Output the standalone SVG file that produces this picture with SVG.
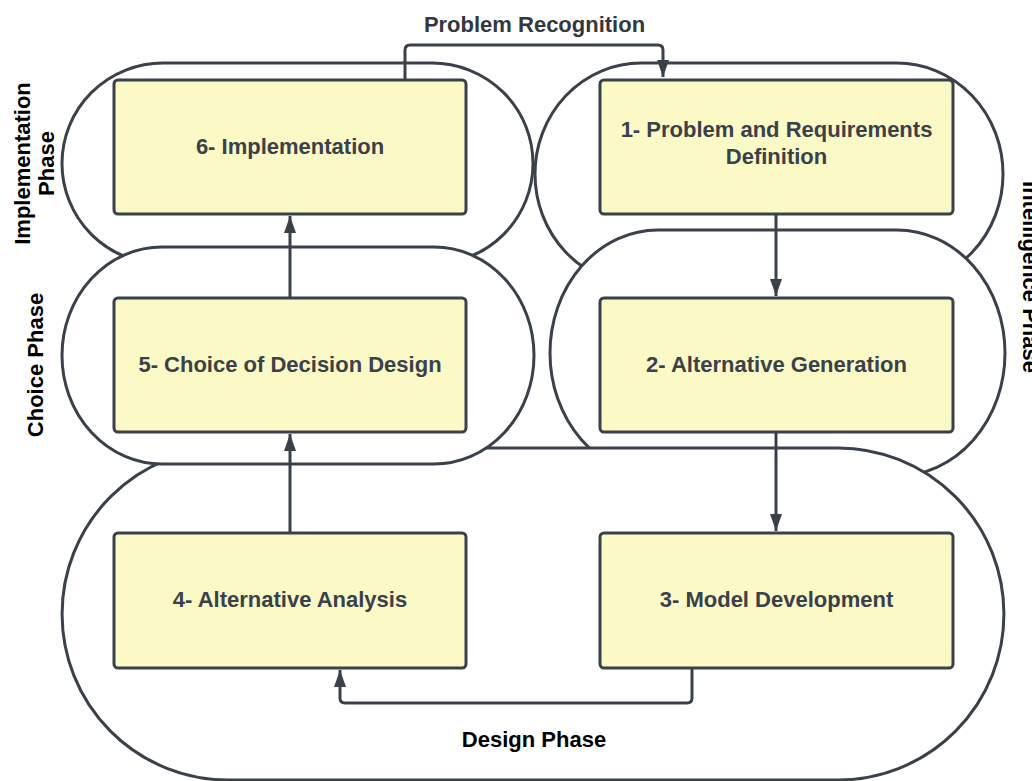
<svg xmlns="http://www.w3.org/2000/svg" width="1032" height="781" viewBox="0 0 1032 781">
<style>
.phase{fill:#ffffff;stroke:#3a414a;stroke-width:3}
.box{fill:#fbf9c6;stroke:#3a414a;stroke-width:3}
.lbl{font-family:"Liberation Sans",Arial,sans-serif;font-size:22px;font-weight:bold;fill:#3a414a;text-anchor:middle}
.ph{font-family:"Liberation Sans",Arial,sans-serif;font-size:22px;font-weight:bold;fill:#000000;text-anchor:middle}
.conn{fill:none;stroke:#3a414a;stroke-width:3}
</style>
<defs>
<marker id="arr" markerUnits="userSpaceOnUse" markerWidth="18" markerHeight="12" refX="17" refY="6" orient="auto">
<path d="M0,0 L17,6 L0,12 Z" fill="#3a414a"/>
</marker>
</defs>
<rect width="1032" height="781" fill="#ffffff"/>
<g id="phases">
<path id="implementation-phase" class="phase" d="M163,63 H432 A101,100.5 0 0 1 432,264 H163 A101,100.5 0 0 1 163,63 Z"/>
<path id="intelligence-phase-top" class="phase" d="M641,63 H897 A106,111 0 0 1 897,285 H641 A106,111 0 0 1 641,63 Z"/>
<path id="intelligence-phase-bottom" class="phase" d="M658,230 H897 A108,123 0 0 1 897,476 H658 A108,123 0 0 1 658,230 Z"/>
<path id="design-phase" class="phase" d="M228,448 H838 A166,166 0 0 1 838,780 H228 A166,166 0 0 1 228,448 Z"/>
<path id="choice-phase" class="phase" d="M162,247 H434 A100,108.5 0 0 1 434,464 H162 A100,108.5 0 0 1 162,247 Z"/>
</g>
<g id="phase-labels">
<text class="ph" transform="translate(0,163.5) rotate(-90)"><tspan x="0" y="30">Implementation</tspan><tspan x="0" y="54">Phase</tspan></text>
<text class="ph" transform="translate(43,365) rotate(-90)" x="0" y="0">Choice Phase</text>
<text class="ph" transform="translate(1023,277) rotate(90)" x="0" y="0">Intelligence Phase</text>
<text class="ph" x="534" y="747">Design Phase</text>
</g>
<g id="connectors">
<path id="c6-1" class="conn" marker-end="url(#arr)" d="M405,80 V50 Q405,45 410,45 H658 Q663,45 663,50 V77"/>
<path id="c1-2" class="conn" marker-end="url(#arr)" d="M776,214 V296"/>
<path id="c2-3" class="conn" marker-end="url(#arr)" d="M776,432 V531"/>
<path id="c3-4" class="conn" marker-end="url(#arr)" d="M692,668 V698 Q692,703 687,703 H345 Q340,703 340,698 V670"/>
<path id="c4-5" class="conn" marker-end="url(#arr)" d="M290,533 V434"/>
<path id="c5-6" class="conn" marker-end="url(#arr)" d="M290,298 V216"/>
<text class="lbl" x="534.5" y="32" style="fill:#333840">Problem Recognition</text>
</g>
<g id="node-6">
<rect class="box" x="114" y="80" width="352" height="134" rx="4"/>
<text class="lbl" x="290" y="154">6- Implementation</text>
</g>
<g id="node-1">
<rect class="box" x="600" y="80" width="353" height="134" rx="4"/>
<text class="lbl" x="776.5" y="137">1- Problem and Requirements</text>
<text class="lbl" x="776.5" y="164">Definition</text>
</g>
<g id="node-5">
<rect class="box" x="114" y="298" width="352" height="134" rx="4"/>
<text class="lbl" x="290" y="372">5- Choice of Decision Design</text>
</g>
<g id="node-2">
<rect class="box" x="600" y="298" width="353" height="134" rx="4"/>
<text class="lbl" x="776.5" y="372">2- Alternative Generation</text>
</g>
<g id="node-4">
<rect class="box" x="114" y="533" width="352" height="135" rx="4"/>
<text class="lbl" x="290" y="607">4- Alternative Analysis</text>
</g>
<g id="node-3">
<rect class="box" x="600" y="533" width="353" height="135" rx="4"/>
<text class="lbl" x="776.5" y="607">3- Model Development</text>
</g>
</svg>
